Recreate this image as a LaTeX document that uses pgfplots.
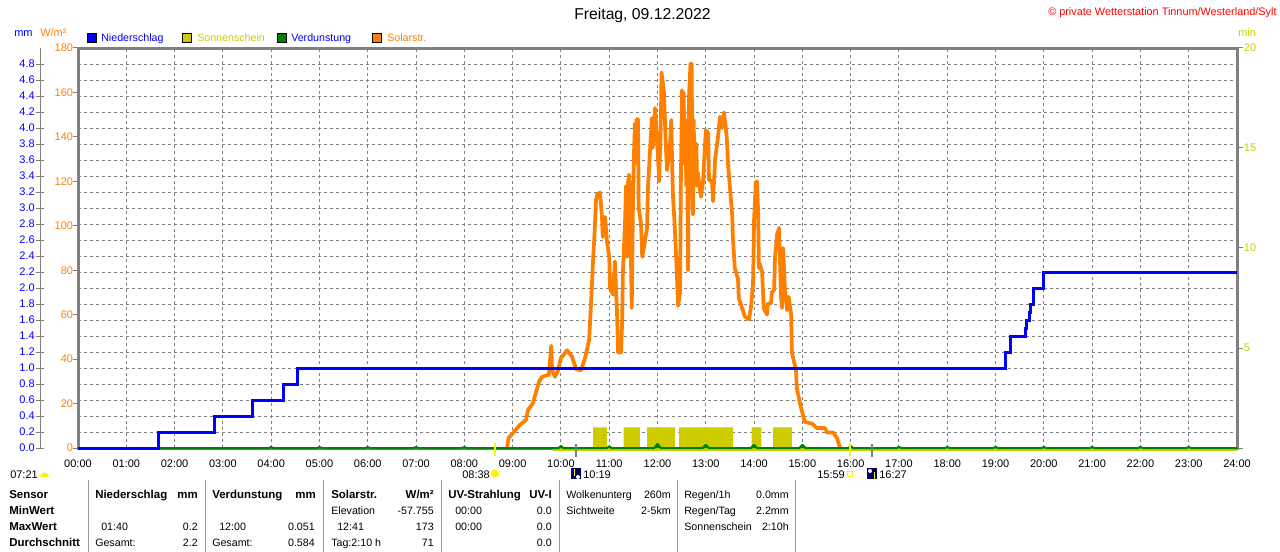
\documentclass[border=0pt]{standalone}
\usepackage{pgfplots}
\pgfplotsset{compat=1.18}
\usepackage{pgfplotstable}
\usepackage{fontspec}
\setmainfont{Liberation Sans}
\definecolor{cblue}{HTML}{0000FF}
\definecolor{corange}{HTML}{FF8000}
\definecolor{cyell}{HTML}{CCCC00}
\definecolor{cgreen}{HTML}{008000}
\definecolor{cgray}{HTML}{808080}
\newcommand{\fs}{\fontsize{8.0}{10}\selectfont}
\newcommand{\ft}{\fontsize{8.25}{10}\selectfont}
\newcommand{\fb}{\fontsize{8.6}{10}\selectfont\bfseries}
\pgfplotstableread{
m W
533 0
535 4.5
540.5 6.8
549 10.4
556.6 12.6
559 17
565 20
569 25
573 30
576.5 32
585 33
588 46
589 35
592.7 32
596.4 35
600 40.5
607.6 44
613.8 41
618.8 35.5
625 35
630 40.5
635 48.6
637 62
640 85
642 98
643.6 111.6
645 114
648.6 115
651 104
652 95
654.8 104
657 93.6
660 86
661 72
664.7 69
667 84
669.7 61
671 43
674.7 43
676 56
677 79
679.6 101
681 118
682 86
683 118
684.6 123
685.5 86
686.2 120
687 85.5
688 63
689.5 110
690.8 133
692 146
693 128
694 148
695 130
695.8 148
696.6 108
699.5 101
701 86
703 90
707 99
708 116
710.7 134
713 148.5
714 135
716.9 153
720.6 131
722 120
724 144
725 169
728 160
730 139
731.8 125
735.6 137
737 147.6
739 115
741.8 97
744 79
745.5 64
748 70
749 119
750.5 161
751.5 128
752.5 160
753.5 130
754.3 137
755 146
755.7 118
756.7 147.6
757.3 110
758 80
759 157
761 173
761.7 140
762.5 173
763.2 120
764 105
765 147.6
766 118
766.7 130
767.5 120
768.3 137
769 118
770 124
774 113
776.6 120
780 143
782.8 142
784 120.6
787.7 120
789 111
791.6 130
795 139.5
797.7 149
800 144
802.6 151
806 140
807.6 128
810 117
812.6 106
813.8 93.6
816 81
820 76
821 67.5
825 63
828.8 59
833.7 58
836 63
838.7 74
840 102.6
842 119
843.7 120
845 106
846 81
847 83
850 79
852 63
856 60
857 65
861 65
862 70
864.8 71
866 86
868.5 96
871 99
873.5 68
874.7 63
876 90
878.4 71
881 62
883 68
886 60
887 43
891 36.5
892 36
893 27
898 18.5
903 11.7
912 11
918 9
928 9
930.6 7
938 7
943 4.5
946.8 0
}\solar
\pgfplotstableread{
m mm
0 0
100 0.2
169 0.4
217 0.6
255 0.8
273 1.0
1152 1.2
1159 1.4
1177 1.5
1179 1.6
1182 1.7
1184 1.8
1187 2.0
1199 2.1
1200 2.2
1440 2.2
}\rain
\pgfplotstableread{
m v
0 0
237 0 
240 0.012
243 0 
297 0
300 0.012
303 0
357 0
360 0.012
363 0
417 0
420 0.012
423 0
477 0
480 0.012
483 0
597 0
600 0.025
603 0
657 0
660 0.02
663 0
716 0
720 0.051
724 0
776 0
780 0.04
784 0
836 0
840 0.04
844 0
896 0
900 0.04
904 0
957 0
960 0.025
963 0
1017 0
1020 0.012
1023 0
1077 0
1080 0.012
1083 0
1137 0
1140 0.012
1143 0
1197 0
1200 0.012
1203 0
1257 0
1260 0.012
1263 0
1317 0
1320 0.012
1323 0
1377 0
1380 0.012
1383 0
1440 0
}\evap
\pgfplotstableread{
m s
640 0
640 1.03
657 1.03
657 0
678 0
678 1.03
698 1.03
698 0
707 0
707 1.03
742 1.03
742 0
747 0
747 1.03
814 1.03
814 0
837 0
837 1.03
849 1.03
849 0
863.5 0
863.5 1.03
887 1.03
887 0
}\sun
\pgfplotsset{
  base/.style={
    scale only axis, at={(58.5pt,-336pt)}, anchor=south west,
    width=869.25pt, height=300pt,
    xmin=0, xmax=1440, clip=false,
    tick label style={font=\ft},
    tick style={cgray, line width=0.75pt},
  },
}
\begin{document}
\begin{tikzpicture}[x=0.75pt,y=-0.75pt]
\path[use as bounding box] (0,0) rectangle (1280,552);
% ---- frame and grid
\begin{axis}[base, ymin=0, ymax=5,
  xtick={0,60,...,1440},
  xticklabels={00:00,01:00,02:00,03:00,04:00,05:00,06:00,07:00,08:00,09:00,10:00,11:00,12:00,13:00,14:00,15:00,16:00,17:00,18:00,19:00,20:00,21:00,22:00,23:00,24:00},
  xticklabel style={yshift=-7.6pt, inner sep=0pt, text height=6.5pt, text depth=0pt},
  major tick length=0pt,
  ytick={0.2,0.4,0.6,0.8,1.0,1.2,1.4,1.6,1.8,2.0,2.2,2.4,2.6,2.8,3.0,3.2,3.4,3.6,3.8,4.0,4.2,4.4,4.6,4.8}, yticklabels={},
  grid=major,
  grid style={cgray, line width=0.75pt, dash pattern=on 2.25pt off 2.25pt},
  axis line style={cgray, line width=2.25pt},
]
\end{axis}
% ---- sunshine, minutes
\begin{axis}[base, ymin=0, ymax=20, axis x line=none, axis y line*=right,
  ytick={0,5,10,15,20}, yticklabels={,5,10,15,20},
  yticklabel style={cyell, xshift=0.5pt, inner sep=0pt},
  tick align=outside, major tick length=4.5pt,
  tick style={cgray, line width=0.75pt},
  y axis line style={draw=none},
]
\addplot[draw=none, fill=cyell] table[x=m,y=s] {\sun};
\addplot[cyell, line width=2.25pt] coordinates {(590,-0.08)(1440,-0.08)};
\end{axis}
% ---- solar radiation
\begin{axis}[base, ymin=0, ymax=180, axis x line=none, axis y line*=left,
  ytick={0,20,...,180},
  yticklabels={0,20,40,60,80,100,120,140,160,180},
  yticklabel style={corange, xshift=0pt, inner sep=0pt},
  tick align=outside, major tick length=3.5pt,
  y axis line style={draw=none},
]
\addplot[corange, line width=2.8pt, line join=round, line cap=butt] table[x=m,y=W] {\solar};
\end{axis}
% ---- precipitation and evaporation
\begin{axis}[base, ymin=0, ymax=5, hide axis]
\addplot[cgreen, fill=cgreen, line width=1.5pt, line join=round] table[x=m,y=v] {\evap};
\addplot[cblue, line width=2.25pt, const plot, line join=miter] table[x=m,y=mm] {\rain};
\end{axis}
% ---- mm scale, offset to the left
\begin{axis}[scale only axis, at={(30pt,-336pt)}, anchor=south west,
  width=28.5pt, height=300pt, xmin=0, xmax=1, ymin=0, ymax=5,
  axis x line=none, axis y line*=left, clip=false,
  ytick={0,0.2,0.4,0.6,0.8,1.0,1.2,1.4,1.6,1.8,2.0,2.2,2.4,2.6,2.8,3.0,3.2,3.4,3.6,3.8,4.0,4.2,4.4,4.6,4.8},
  yticklabels={0.0,0.2,0.4,0.6,0.8,1.0,1.2,1.4,1.6,1.8,2.0,2.2,2.4,2.6,2.8,3.0,3.2,3.4,3.6,3.8,4.0,4.2,4.4,4.6,4.8},
  tick align=center, major tick length=6pt,
  tick style={cgray, line width=0.75pt},
  yticklabel style={cblue, font=\ft, xshift=-0.75pt, inner sep=0pt},
  every outer y axis line/.style={-, cgray, line width=0.75pt},
  y axis line style={cgray, line width=0.75pt, -},
]
\end{axis}
% ---- texts
\tikzset{t/.style={inner sep=0pt, font=\fs}, l/.style={t, anchor=base west}, r/.style={t, anchor=base east}, b/.style={font=\fb}}
\node[inner sep=0pt, anchor=base, font=\fontsize{11.8}{13}\selectfont] at (642.5,20) {Freitag, 09.12.2022};
\node[l, text=red, font=\fontsize{8.15}{10}\selectfont] at (1048,16) {© private Wetterstation Tinnum/Westerland/Sylt};
\node[l, text=cblue, font=\ft] at (14,37) {mm};
\node[l, text=corange, font=\ft] at (40,37) {W/m²};
\node[l, text=cyell, font=\ft] at (1238,37) {min};
% ---- legend
\foreach \x/\c in {87/cblue,182/cyell,277/cgreen,372/corange}
  \draw[black, line width=0.75pt, fill=\c] (\x+0.5,33.5) rectangle (\x+9.5,42.5);
\node[l, text=cblue] at (101,42) {Niederschlag};
\node[l, text=cyell] at (197,42) {Sonnenschein};
\node[l, text=cblue] at (291,42) {Verdunstung};
\node[l, text=corange] at (387,42) {Solarstr.};
% ---- sun and moon events
\draw[yellow, line width=1.5pt] (495,443) -- (495,456);
\draw[yellow, line width=1.5pt] (850,443) -- (850,456);
\draw[cgray, line width=1.5pt] (575.5,444) -- (575.5,457);
\draw[cgray, line width=1.5pt] (872,444) -- (872,457);
\node[l, font=\ft] at (10,478) {07:21};
\fill[yellow] (40,477) -- (49,477) arc (0:-180:4.5) -- cycle;
\node[l, font=\ft] at (462,478) {08:38};
\fill[yellow] (495,473.5) circle (4);
\node[l, font=\ft] at (583,478) {10:19};
\fill[blue!40!black] (571,468) rectangle (581,479);
\fill[white] (578,477) circle (2);
\draw[yellow, line width=1pt] (574.5,469) -- (574.5,476);
\node[l, font=\ft] at (817,478) {15:59};
\draw[yellow, line width=0.75pt] (847.5,471.5) rectangle (852.5,476.5);
\fill[blue!40!black] (867,468) rectangle (877,479);
\fill[white] (870,471) circle (2);
\draw[yellow, line width=1pt] (874.5,472) -- (874.5,479);
\node[l, font=\ft] at (879,478) {16:27};
% ---- table
\foreach \x in {88.5,205.5,323,441.5,559,677,795}
  \draw[black!40, line width=0.75pt] (\x,480) -- (\x,552);
\node[l,b] at (9,498) {Sensor};
\node[l,b] at (9,514) {MinWert};
\node[l,b] at (9,530) {MaxWert};
\node[l,b] at (9,546) {Durchschnitt};
\node[l,b] at (95,498) {Niederschlag};
\node[r,b] at (198,498) {mm};
\node[l] at (101,530) {01:40};
\node[r] at (198,530) {0.2};
\node[l] at (95,546) {Gesamt:};
\node[r] at (198,546) {2.2};
\node[l,b] at (212,498) {Verdunstung};
\node[r,b] at (316,498) {mm};
\node[l] at (219,530) {12:00};
\node[r] at (315,530) {0.051};
\node[l] at (212,546) {Gesamt:};
\node[r] at (315,546) {0.584};
\node[l,b] at (331,498) {Solarstr.};
\node[r,b] at (434,498) {W/m²};
\node[l] at (331,514) {Elevation};
\node[r] at (434,514) {-57.755};
\node[l] at (337,530) {12:41};
\node[r] at (434,530) {173};
\node[l] at (331,546) {Tag:2:10 h};
\node[r] at (434,546) {71};
\node[l,b] at (448,498) {UV-Strahlung};
\node[r,b] at (552,498) {UV-I};
\node[l] at (455,514) {00:00};
\node[r] at (552,514) {0.0};
\node[l] at (455,530) {00:00};
\node[r] at (552,530) {0.0};
\node[r] at (552,546) {0.0};
\node[l] at (566,498) {Wolkenunterg};
\node[r] at (671,498) {260m};
\node[l] at (566,514) {Sichtweite};
\node[r] at (671,514) {2-5km};
\node[l] at (684,498) {Regen/1h};
\node[r] at (789,498) {0.0mm};
\node[l] at (684,514) {Regen/Tag};
\node[r] at (789,514) {2.2mm};
\node[l] at (684,530) {Sonnenschein};
\node[r] at (789,530) {2:10h};
\end{tikzpicture}
\end{document}
